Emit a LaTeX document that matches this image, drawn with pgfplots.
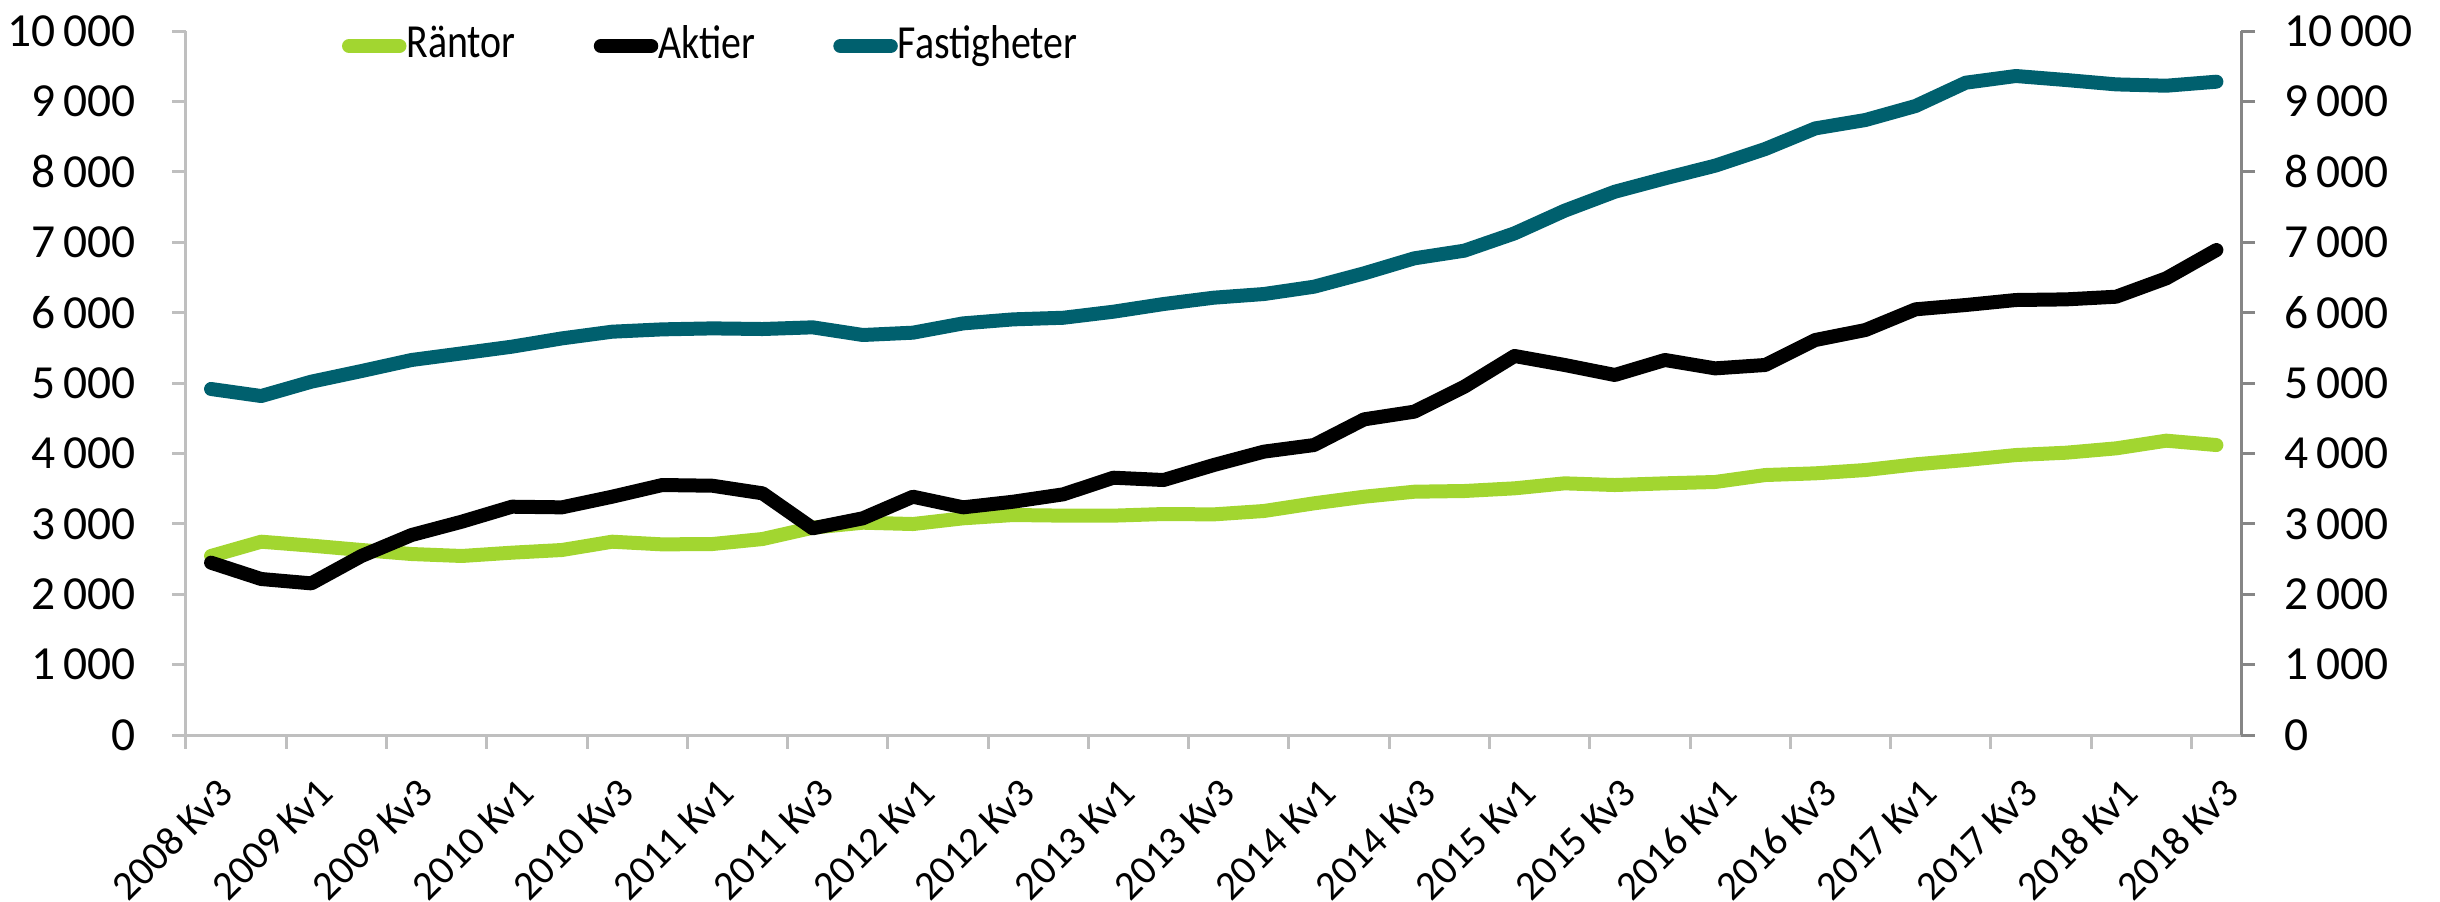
\documentclass[border=0pt]{standalone}
\usepackage{fontspec}
\setmainfont{Carlito}
\newfontfamily\legfont[FakeStretch=0.84]{Carlito}
\usepackage{pgfplots}
\usepackage{pgfplotstable}
\pgfplotsset{compat=1.18}

\definecolor{rantor}{HTML}{A2D630}
\definecolor{fast}{HTML}{00606E}
\definecolor{axgray}{HTML}{BFBFBF}
\definecolor{axdark}{HTML}{868686}

% kvartal 2008 Kv3 (0) -- 2018 Kv3 (40)
\pgfplotstableread{
i rantor aktier fast
0 2543 2448 4915
1 2746 2216 4815
2 2690 2154 5019
3 2628 2543 5170
4 2571 2841 5327
5 2543 3030 5421
6 2590 3243 5516
7 2628 3234 5634
8 2746 3385 5729
9 2708 3551 5762
10 2713 3541 5776
11 2784 3433 5767
12 2945 2936 5791
13 3016 3078 5682
14 2997 3385 5715
15 3078 3234 5847
16 3125 3314 5904
17 3116 3419 5927
18 3116 3655 6013
19 3139 3622 6122
20 3134 3835 6212
21 3182 4025 6264
22 3291 4119 6368
23 3385 4484 6558
24 3456 4593 6771
25 3466 4948 6880
26 3504 5384 7126
27 3575 5256 7448
28 3551 5114 7717
29 3575 5327 7907
30 3594 5208 8087
31 3693 5256 8324
32 3717 5611 8617
33 3764 5753 8736
34 3845 6047 8935
35 3906 6108 9266
36 3977 6179 9361
37 4010 6188 9304
38 4072 6226 9242
39 4181 6487 9223
40 4119 6889 9280
}\datatable

\newcommand{\ticklab}{\fontsize{9.5}{11}\selectfont}

\pgfplotsset{
  common/.style={
    scale only axis, width=411.1pt, height=140.8pt,
    xmin=-0.5, xmax=40.5, ymin=0, ymax=10000,
    ytick={0,1000,...,10000},
    scaled y ticks=false,
    major tick length=2.7pt, tick align=outside,
    /pgf/number format/1000 sep={\,},
    /pgf/number format/assume math mode=true,
    yticklabel style={font=\ticklab},
  },
}

\begin{document}
\begin{tikzpicture}
\path[use as bounding box] (-37.2pt,-33.2pt) rectangle (450.8pt,147pt);
\begin{axis}[
    common,
    axis x line*=bottom, axis y line*=left,
    axis line style={axgray, line width=0.6pt},
    tick style={axgray, line width=0.6pt},
    yticklabel style={xshift=-3.9pt},
    xtick={-0.5,1.5,...,39.5}, xticklabels={},
    extra x ticks={0,2,...,40},
    extra x tick labels={2008 Kv3,2009 Kv1,2009 Kv3,2010 Kv1,2010 Kv3,2011 Kv1,2011 Kv3,2012 Kv1,2012 Kv3,2013 Kv1,2013 Kv3,2014 Kv1,2014 Kv3,2015 Kv1,2015 Kv3,2016 Kv1,2016 Kv3,2017 Kv1,2017 Kv3,2018 Kv1,2018 Kv3},
    extra x tick style={major tick length=0pt,
      xticklabel style={rotate=45, anchor=east, inner sep=0pt, font=\fontsize{8.2}{10}\selectfont, xshift=-5pt, yshift=-9.3pt}},
    legend columns=3,
    legend style={draw=none, fill=none, inner sep=0pt, outer sep=0pt,
      at={(0.0759,1)}, anchor=west, yshift=-3pt,
      font=\legfont\fontsize{9.5}{11}\selectfont,
      nodes={inner sep=0pt},
      /tikz/every even column/.style={column sep=15.6pt}},
    legend image code/.code={\draw[#1, line cap=round, line width=2.9pt] (1.5pt,0pt) -- (11.5pt,0pt);},
    every axis plot/.append style={line width=2.8pt, line cap=round, line join=round},
]
\addplot[rantor] table[x=i, y=rantor] {\datatable};
\addlegendentry{Räntor}
\addplot[black] table[x=i, y=aktier] {\datatable};
\addlegendentry{Aktier}
\addplot[fast] table[x=i, y=fast] {\datatable};
\addlegendentry{Fastigheter}
\end{axis}
\begin{axis}[
    common,
    axis x line=none, axis y line*=right,
    axis line style={axdark, line width=0.6pt},
    tick style={axdark, line width=0.6pt},
    yticklabel style={xshift=2.4pt},
]
\addplot[draw=none] coordinates {(0,0)};
\end{axis}
\end{tikzpicture}
\end{document}
